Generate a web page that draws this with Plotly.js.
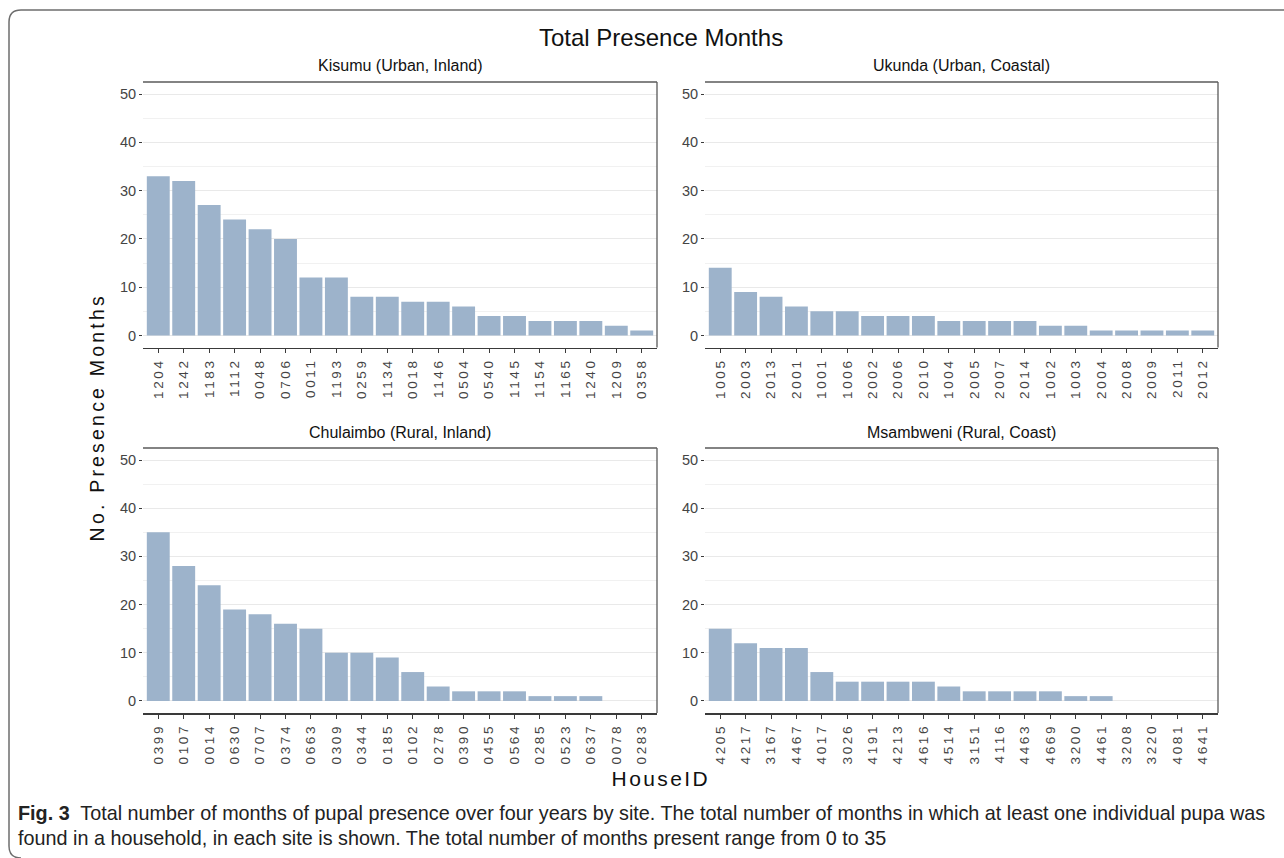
<!DOCTYPE html>
<html>
<head>
<meta charset="utf-8">
<script src="https://cdn.plot.ly/plotly-3.0.1.min.js"></script>
<style>
  html, body { margin: 0; padding: 0; background: #fff; }
  #chart { width: 1284px; height: 858px; }
  .xaxislayer-above text { letter-spacing: 2.6px; }
  .annotation[data-index="5"] text { letter-spacing: 3.2px; }
  .annotation[data-index="6"] text { letter-spacing: 2.4px; }
</style>
</head>
<body>
<div id="chart"></div>
<script>
// ---- data ----
const kisumuIds = ["1204","1242","1183","1112","0048","0706","0011","1193","0259","1134","0018","1146","0504","0540","1145","1154","1165","1240","1209","0358"];
const kisumuMonths = [33,32,27,24,22,20,12,12,8,8,7,7,6,4,4,3,3,3,2,1];

const ukundaIds = ["1005","2003","2013","2001","1001","1006","2002","2006","2010","1004","2005","2007","2014","1002","1003","2004","2008","2009","2011","2012"];
const ukundaMonths = [14,9,8,6,5,5,4,4,4,3,3,3,3,2,2,1,1,1,1,1];

const chulaimboIds = ["0399","0107","0014","0630","0707","0374","0663","0309","0344","0185","0102","0278","0390","0455","0564","0285","0523","0637","0078","0283"];
const chulaimboMonths = [35,28,24,19,18,16,15,10,10,9,6,3,2,2,2,1,1,1,0,0];

const msambweniIds = ["4205","4217","3167","4467","4017","3026","4191","4213","4616","4514","3151","4116","4463","4669","3200","4461","3208","3220","4081","4641"];
const msambweniMonths = [15,12,11,11,6,4,4,4,4,3,2,2,2,2,1,1,0,0,0,0];

const panelTitles = ["Kisumu (Urban, Inland)", "Ukunda (Urban, Coastal)", "Chulaimbo (Rural, Inland)", "Msambweni (Rural, Coast)"];
const yTickVals = [0,10,20,30,40,50];

// ---- layout helpers ----
const W = 1284, H = 858;
const px = x => x / W;
const py = y => 1 - y / H;

const barColor = "#9db3cb";
const sets = [
  {ids: kisumuIds, vals: kisumuMonths, xa: "x", ya: "y"},
  {ids: ukundaIds, vals: ukundaMonths, xa: "x2", ya: "y2"},
  {ids: chulaimboIds, vals: chulaimboMonths, xa: "x3", ya: "y3"},
  {ids: msambweniIds, vals: msambweniMonths, xa: "x4", ya: "y4"}
];

const traces = sets.map(s => ({
  type: "bar", x: s.ids, y: s.vals, xaxis: s.xa, yaxis: s.ya,
  marker: {color: barColor, line: {width: 0}},
  hoverinfo: "x+y", showlegend: false
}));

const colDom = [[px(143), px(657)], [px(705), px(1218)]];
const rowDom = [[py(347.5), py(82)], [py(713), py(448)]];

function xAx(c, r, anchor) {
  return {
    domain: colDom[c], anchor: anchor, type: "category",
    range: [-0.6, 19.6], showgrid: false, zeroline: false,
    showline: true, linecolor: "#3a3a3a", linewidth: 1.6,
    ticks: "outside", ticklen: 4, tickwidth: 1, tickcolor: "#3a3a3a",
    tickangle: -90, tickfont: {family: "Liberation Sans, Arial, sans-serif", size: 13.5, color: "#444"},
    fixedrange: true
  };
}
function yAx(c, r, anchor) {
  return {
    domain: rowDom[r], anchor: anchor, range: [-2.5, 52.5],
    tickvals: yTickVals, showgrid: true, gridcolor: "#e9e9e9", gridwidth: 1,
    minor: {dtick: 5, tick0: 0, showgrid: true, gridcolor: "#f1f1f1", gridwidth: 1, ticks: ""},
    zeroline: false, showline: false,
    ticks: "outside", ticklen: 3, tickwidth: 1, tickcolor: "#3a3a3a",
    tickfont: {family: "Liberation Sans, Arial, sans-serif", size: 14.5, color: "#444"},
    fixedrange: true
  };
}

const shapes = [];
[["x","y"],["x2","y2"],["x3","y3"],["x4","y4"]].forEach(([xa, ya]) => {
  shapes.push({type: "line", xref: xa + " domain", yref: ya + " domain", x0: 0, x1: 1, y0: 1, y1: 1, line: {color: "#5a5a5a", width: 1.3}});
  shapes.push({type: "line", xref: xa + " domain", yref: ya + " domain", x0: 1, x1: 1, y0: 0, y1: 1, line: {color: "#5a5a5a", width: 1.3}});
});
// outer figure frame with rounded corners
shapes.push({
  type: "path", xref: "paper", yref: "paper",
  path: `M ${px(1290)},${py(10)} L ${px(21)},${py(10)} Q ${px(9)},${py(10)} ${px(9)},${py(22)} L ${px(9)},${py(846)} Q ${px(9)},${py(858)} ${px(21)},${py(858)}`,
  line: {color: "#6e6e6e", width: 1.5}
});

const titleFont = {family: "Liberation Sans, Arial, sans-serif", color: "#111"};
const annotations = [
  {text: "Total Presence Months", x: px(661), y: py(37), font: Object.assign({size: 24}, titleFont)},
  {text: panelTitles[0], x: px(400), y: py(65), font: Object.assign({size: 16}, titleFont)},
  {text: panelTitles[1], x: px(961.5), y: py(65), font: Object.assign({size: 16}, titleFont)},
  {text: panelTitles[2], x: px(400), y: py(432), font: Object.assign({size: 16}, titleFont)},
  {text: panelTitles[3], x: px(961.5), y: py(432), font: Object.assign({size: 16}, titleFont)},
  {text: "No. Presence Months", x: px(97), y: py(417), textangle: -90, font: {family: "Liberation Sans, Arial, sans-serif", size: 19.5, color: "#111"}},
  {text: "HouseID", x: px(661), y: py(778), font: {family: "Liberation Sans, Arial, sans-serif", size: 21, color: "#111"}},
  {text: "<b>Fig. 3</b>  Total number of months of pupal presence over four years by site. The total number of months in which at least one individual pupa was",
   x: px(16), y: py(813), xanchor: "left", font: {family: "Liberation Sans, Arial, sans-serif", size: 19.8, color: "#222"}},
  {text: "found in a household, in each site is shown. The total number of months present range from 0 to 35",
   x: px(16), y: py(838), xanchor: "left", font: {family: "Liberation Sans, Arial, sans-serif", size: 19.8, color: "#222"}}
].map(a => Object.assign({xref: "paper", yref: "paper", showarrow: false, xanchor: "center", yanchor: "middle"}, a));

const layout = {
  width: W, height: H,
  margin: {l: 0, r: 0, t: 0, b: 0, pad: 0},
  paper_bgcolor: "#fff", plot_bgcolor: "#fff",
  bargap: 0.1, showlegend: false,
  xaxis: xAx(0, 0, "y"), yaxis: yAx(0, 0, "x"),
  xaxis2: xAx(1, 0, "y2"), yaxis2: yAx(1, 0, "x2"),
  xaxis3: xAx(0, 1, "y3"), yaxis3: yAx(0, 1, "x3"),
  xaxis4: xAx(1, 1, "y4"), yaxis4: yAx(1, 1, "x4"),
  shapes: shapes, annotations: annotations
};

Plotly.newPlot("chart", traces, layout, {displayModeBar: false, staticPlot: true});
</script>
</body>
</html>
